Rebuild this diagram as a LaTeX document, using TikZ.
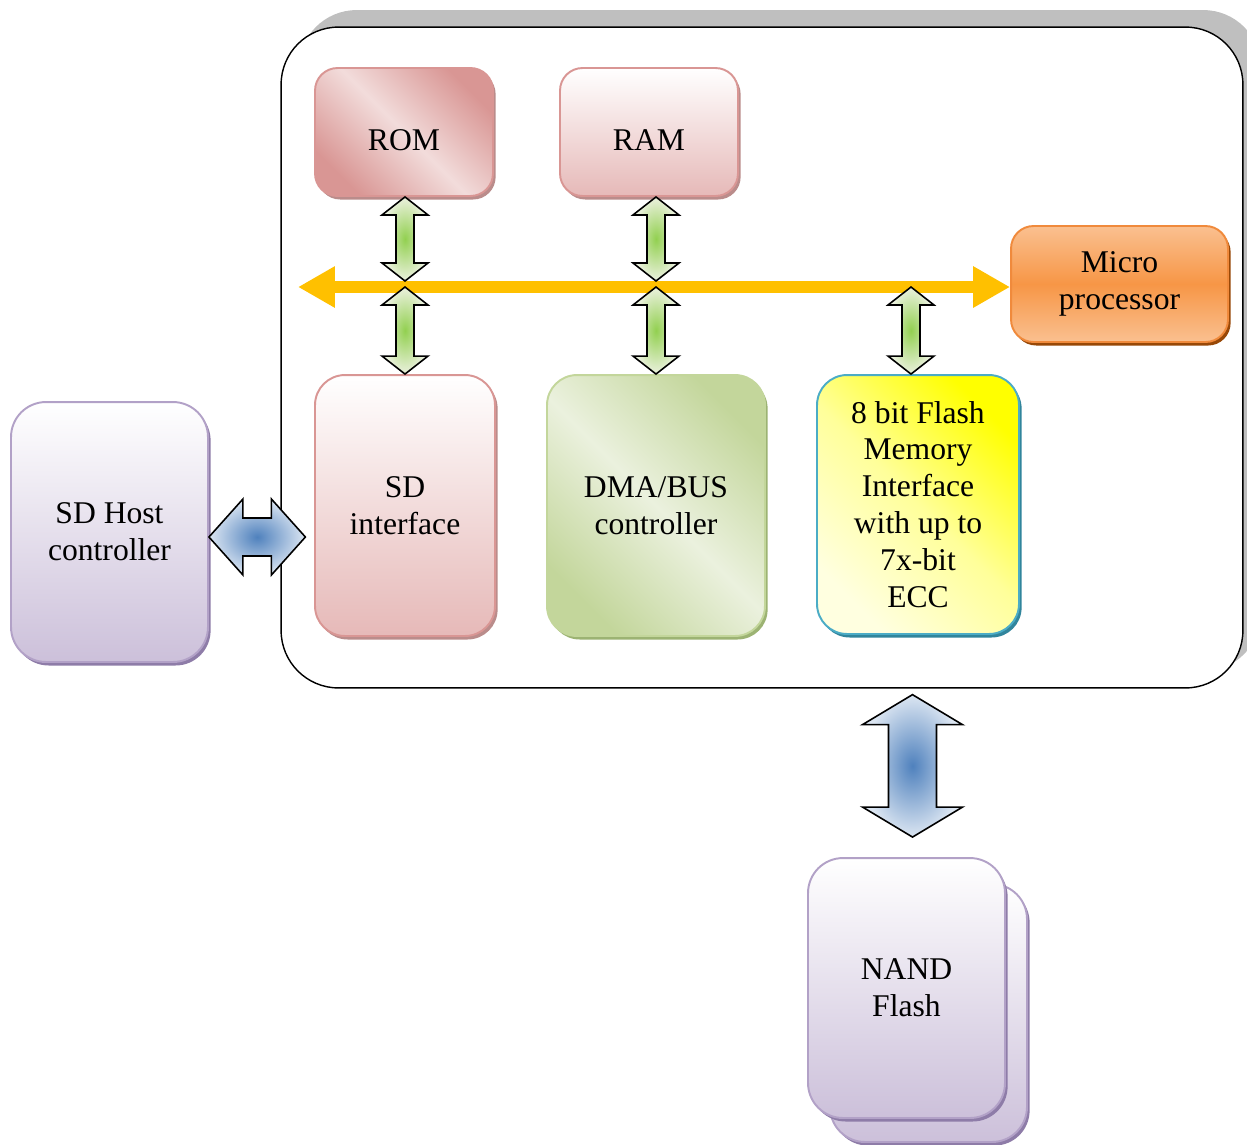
\documentclass[tikz,border=0pt]{standalone}
\usepackage{fontspec}
\setmainfont{Liberation Serif}
\usepackage{xcolor}
\usetikzlibrary{arrows.meta,calc,shadows}
\definecolor{frame_gray}{HTML}{BFBFBF}
\definecolor{pink_dark}{HTML}{D99694}
\definecolor{pink_light}{HTML}{F2DCDB}
\definecolor{pink_bottom}{HTML}{E6B9B8}
\definecolor{pink_shadow}{HTML}{BA8C8B}
\definecolor{green_dark}{HTML}{C3D69B}
\definecolor{green_light}{HTML}{EBF1DE}
\definecolor{green_shadow}{HTML}{9CB373}
\definecolor{yellow_bright}{HTML}{FFFF00}
\definecolor{yellow_mid}{HTML}{FFFF9A}
\definecolor{yellow_pale}{HTML}{FFFFE0}
\definecolor{flash_border}{HTML}{4BACC6}
\definecolor{flash_shadow}{HTML}{31859C}
\definecolor{orange_mid}{HTML}{F79646}
\definecolor{orange_light}{HTML}{FAC090}
\definecolor{orange_border}{HTML}{F08A3C}
\definecolor{micro_shadow}{HTML}{984807}
\definecolor{lilac_bottom}{HTML}{CCC0DA}
\definecolor{lilac_border}{HTML}{B2A1C7}
\definecolor{lilac_shadow}{HTML}{8E7CA8}
\definecolor{bus_yellow}{HTML}{FFC000}
\definecolor{arrow_green}{HTML}{92D050}
\definecolor{arrow_blue}{HTML}{4F81BD}
\definecolor{arrow_blue_light}{HTML}{DCE6F2}

% double fleche verticale : style, haut, bas, demi-tige, demi-tete, longueur tete
\newcommand{\vbiarrow}[6]{%
  \path[#1] (#2) -- ++(#5,#6) -- ++(-#5+#4,0) -- ($(#3)+(#4,-#6)$) -- ++(#5-#4,0) -- (#3)
    -- ++(-#5,-#6) -- ++(#5-#4,0) -- ($(#2)+(-#4,#6)$) -- ++(-#5+#4,0) -- cycle;}
% double fleche horizontale : style, gauche, droite, demi-tige, demi-tete, longueur tete
\newcommand{\hbiarrow}[6]{%
  \path[#1] (#2) -- ++(#6,-#5) -- ++(0,#5-#4) -- ($(#3)+(-#6,-#4)$) -- ++(0,-#5+#4) -- (#3)
    -- ++(-#6,#5) -- ++(0,-#5+#4) -- ($(#2)+(#6,#4)$) -- ++(0,#5-#4) -- cycle;}

\begin{document}
\begin{tikzpicture}[x=0.02cm, y=-0.02cm,
    boite/.style={draw, line width=1.1pt, align=center, inner sep=0pt,
      font=\fontsize{18}{21}\selectfont},
    ombre/.style={drop shadow={shadow xshift=1.5pt, shadow yshift=-2pt, opacity=1, fill=#1}},
    cadre/.style={draw=black, line width=0.8pt, fill=white, rounded corners=1.15cm,
      minimum width=19.24cm, minimum height=13.22cm,
      drop shadow={shadow xshift=0.36cm, shadow yshift=0.34cm, opacity=1, fill=frame_gray}},
    rose_diag/.style={boite, draw=pink_dark, rounded corners=0.45cm, ombre=pink_shadow,
      left color=pink_dark, right color=pink_dark, middle color=pink_light, shading angle=135},
    rose_vert/.style={boite, draw=pink_dark, ombre=pink_shadow,
      top color=white, bottom color=pink_bottom},
    vert_diag/.style={boite, draw=green_dark, rounded corners=0.6cm, ombre=green_shadow,
      left color=green_dark, right color=green_dark, middle color=green_light, shading angle=135},
    jaune/.style={boite, draw=flash_border, rounded corners=0.6cm, ombre=flash_shadow,
      top color=yellow_bright, bottom color=yellow_pale, middle color=yellow_mid, shading angle=-45},
    orange_box/.style={boite, draw=orange_border, rounded corners=0.45cm, ombre=micro_shadow,
      top color=orange_light, bottom color=orange_light, middle color=orange_mid},
    lilas/.style={boite, draw=lilac_border, rounded corners=0.7cm, ombre=lilac_shadow,
      top color=white, bottom color=lilac_bottom, minimum width=3.94cm, minimum height=5.2cm},
    bus/.style={bus_yellow, line width=0.24cm,
      {Triangle[length=0.74cm,width=0.78cm]}-{Triangle[length=0.74cm,width=0.78cm]}},
    fleche_verte/.style={draw=black, line width=0.9pt, line join=miter,
      shading=radial, inner color=arrow_green, outer color=green_light},
    fleche_bleue/.style={draw=black, line width=0.9pt, line join=miter,
      shading=radial, inner color=arrow_blue, outer color=arrow_blue_light}]
  \useasboundingbox (0,0) rectangle (1247,1144);

  % Cadre du controleur
  \node[cadre] (soc) at (762,357.5) {};

  % Memoires et processeur
  \node[rose_diag, text height=0.74cm, minimum width=3.56cm, minimum height=2.56cm] (rom) at (404,132) {ROM};
  \node[rose_vert, text height=0.74cm, rounded corners=0.45cm, minimum width=3.56cm, minimum height=2.56cm] (ram) at (649,132) {RAM};
  \node[orange_box, minimum width=4.34cm, minimum height=2.32cm] (mp) at (1119.5,284) {Micro\\processor};

  % Blocs du bas
  \node[rose_vert, rounded corners=0.6cm, minimum width=3.6cm, minimum height=5.22cm] (sdi) at (405,505.5) {SD\\interface};
  \node[vert_diag, minimum width=4.36cm, minimum height=5.22cm] (dma) at (656,505.5) {DMA/BUS\\controller};
  \node[jaune, minimum width=4.04cm, minimum height=5.18cm] (flash) at (918,504.5)
    {8 bit Flash\\Memory\\Interface\\with up to\\7x-bit\\ECC};

  % Hote et NAND
  \node[lilas] (host) at (109.5,532) {SD Host\\controller};
  \node[lilas, minimum height=5.16cm] (nand2) at (928.5,1013) {};
  \node[lilas] (nand) at (906.5,988) {NAND\\Flash};

  % Bus
  \coordinate (busL) at (298,287);
  \coordinate (busT) at (298,281);
  \draw[bus] (busL) -- (busL -| mp.west);

  % Liaisons au bus
  \foreach \haut/\bas in {rom/sdi, ram/dma} {
    \coordinate (h) at (\bas.north |- \haut.south);
    \coordinate (m) at (\bas.north |- busT);
    \coordinate (b) at (\bas.north |- busL);
    \vbiarrow{fleche_verte}{h}{m}{9}{23}{18}
    \vbiarrow{fleche_verte}{b}{\bas.north}{9}{23}{18}
  }
  \coordinate (fl) at ($(flash.north)+(-7,0)$);
  \coordinate (fb) at (fl |- busL);
  \vbiarrow{fleche_verte}{fb}{fl}{9}{23}{18}

  % Liaisons externes
  \coordinate (hg) at ($(host.east)+(0,5)$);
  \coordinate (hd) at ($(hg -| soc.west)+(25,0)$);
  \hbiarrow{fleche_bleue}{hg}{hd}{19}{38}{34}
  \coordinate (nt) at ($(soc.south -| nand.north)+(6,6)$);
  \coordinate (nb) at ($(nand.north)+(6,-20)$);
  \vbiarrow{fleche_bleue}{nt}{nb}{24}{50}{30}
\end{tikzpicture}
\end{document}
